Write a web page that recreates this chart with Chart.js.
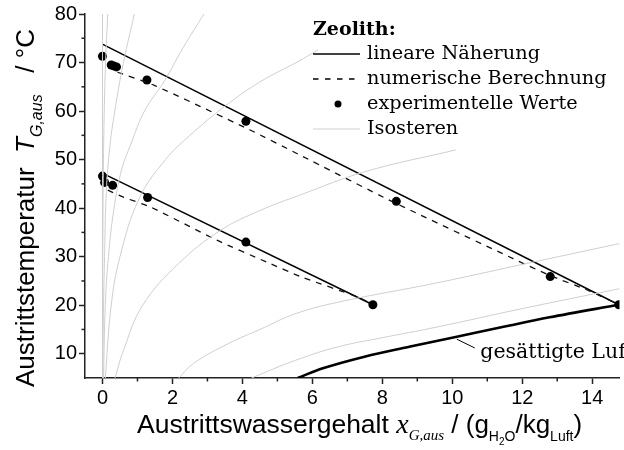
<!DOCTYPE html>
<html>
<head>
<meta charset="utf-8">
<script src="https://cdn.jsdelivr.net/npm/chart.js@4.4.0/dist/chart.umd.min.js"></script>
<style>
  html,body{margin:0;padding:0;background:#fff;}
  #wrap{position:relative;width:624px;height:450px;}
</style>
</head>
<body>
<div id="wrap"><canvas id="c" width="624" height="450"></canvas></div>
<script>
// Ticks
const xTicks = [0,2,4,6,8,10,12,14];
const xMinor = [1,3,5,7,9,11,13];
const yTicks = [10,20,30,40,50,60,70,80];
const yMinor = [15,25,35,45,55,65,75];

// Experimentelle Werte (x in g/kg, T in °C)
const expHighX = [0,0.25,0.32,0.4,1.27,4.1,8.4,12.8,14.76];
const expHighT = [71.3,69.5,69.3,69.1,66.4,57.9,41.4,25.9,20.1];
const expLowX  = [0,0.06,0.29,1.29,4.1,7.73];
const expLowT  = [46.6,45.3,44.7,42.2,33.0,20.1];

// Lineare Näherung
const linHighX = [0.01,14.76];
const linHighT = [73.75,20.1];
const linLowX  = [0.05,7.73];
const linLowT  = [47.0,20.1];

// Numerische Berechnung
const numHighX = [0.43,1.48,4.22,5.6,8.3,11.74,12.78,13.9,14.76];
const numHighT = [68.0,65.3,56.1,51.1,41.3,29.6,26.15,23.0,20.1];
const numLowX  = [0.15,0.58,1.38,3.27,4.69,5.73,7.29,7.73];
const numLowT  = [43.7,42.3,40.2,33.4,28.9,25.7,21.7,20.1];

// Gesättigte Luft
const satX = [5.58,6.3,7.49,8.8,10.13,11.5,12.78,14.76];
const satT = [5,7,9.4,11.5,13.5,15.6,17.5,20.1];

// Isosteren
const iso1X = [0,0];           const iso1T = [5,80];
const iso2X = [0,0.004,0.015,0.028,0.05,0.088,0.15];
const iso2T = [5,20,40,50,60,70,80];
const iso3X = [0.01,0.03,0.06,0.1,0.2,0.35,0.6,0.91];
const iso3T = [5,20,30,42,52,60,70,80];
const iso4X = [0.03,0.08,0.17,0.33,0.55,0.8,1.2,1.77,2.3,2.9];
const iso4T = [5,20,30,40,48,53,60,66.2,73,80];
const iso5X = [0.08,0.25,0.5,1.05,1.8,2.5,3.5,4.5,5.59,6.16];
const iso5T = [5,20,30,42,50,55,61,66,70.2,72.6];
const iso6X = [0.36,0.58,1.15,2.18,3.37,4.5,5.65,7.5,10.1];
const iso6T = [5,10.3,20,28.6,35.4,39.5,42.7,47.5,52];
const iso7X = [2.18,2.6,3.6,4.5,5.5,6.72,9.56,12,14.78];
const iso7T = [5,8,12.1,15,18.2,20.6,24.6,28.4,32.7];
const iso8X = [4.26,5.5,6.72,8,9.56,12,14.78];
const iso8T = [5,8.6,11.4,13.3,15.5,19.3,23.4];

const legendItems = [
  {label:'lineare Näherung', kind:'solid'},
  {label:'numerische Berechnung', kind:'dash'},
  {label:'experimentelle Werte', kind:'dot'},
  {label:'Isosteren', kind:'iso'}
];

function pts(xs, ys){ return xs.map((v,i)=>({x:v, y:ys[i]})); }

const isoStyle = {showLine:true, borderColor:'#cfcfcf', borderWidth:1, pointRadius:0, tension:0.4, fill:false};
const isos = [[iso1X,iso1T],[iso2X,iso2T],[iso3X,iso3T],[iso4X,iso4T],[iso5X,iso5T],[iso6X,iso6T],[iso7X,iso7T],[iso8X,iso8T]]
  .map(([a,b])=>Object.assign({data:pts(a,b)}, isoStyle));

const datasets = [
  ...isos,
  {data:pts(satX,satT), showLine:true, borderColor:'#000', borderWidth:2.6, pointRadius:0, cubicInterpolationMode:'monotone'},
  {data:pts(numHighX,numHighT), showLine:true, borderColor:'#111', borderWidth:1.3, borderDash:[6,6], pointRadius:0, tension:0.2},
  {data:pts(numLowX,numLowT), showLine:true, borderColor:'#111', borderWidth:1.3, borderDash:[6,6], pointRadius:0, tension:0.2},
  {data:pts(linHighX,linHighT), showLine:true, borderColor:'#000', borderWidth:1.5, pointRadius:0},
  {data:pts(linLowX,linLowT), showLine:true, borderColor:'#000', borderWidth:1.5, pointRadius:0},
  {data:pts(expHighX,expHighT), showLine:false, pointRadius:4.5, pointBackgroundColor:'#000', pointBorderWidth:0},
  {data:pts(expLowX,expLowT), showLine:false, pointRadius:4.5, pointBackgroundColor:'#000', pointBorderWidth:0}
];

function rich(ctx, parts, x0, y0){
  let x = x0;
  parts.forEach(p=>{
    ctx.font = p.f;
    ctx.fillText(p.t, x, y0 + (p.dy||0));
    x += ctx.measureText(p.t).width;
  });
}

const SANS = '"Liberation Sans", Arial, sans-serif';
const SERIF = '"DejaVu Serif", serif';

const overlay = {
  id:'overlay',
  afterDraw(chart){
    const {ctx, scales:{x, y}} = chart;
    ctx.save();
    // minor ticks
    ctx.strokeStyle = '#222'; ctx.lineWidth = 1.5;
    xMinor.forEach(v=>{
      const px = x.getPixelForValue(v);
      ctx.beginPath(); ctx.moveTo(px, y.bottom); ctx.lineTo(px, y.bottom+3.5); ctx.stroke();
    });
    yMinor.forEach(v=>{
      const py = y.getPixelForValue(v);
      ctx.beginPath(); ctx.moveTo(x.left, py); ctx.lineTo(x.left-3.5, py); ctx.stroke();
    });

    // axis titles
    ctx.fillStyle = '#000';
    ctx.textBaseline = 'alphabetic';
    ctx.textAlign = 'left';
    rich(ctx, [
      {t:'Austrittswassergehalt ', f:'26.5px '+SANS},
      {t:'x', f:'italic 28px "Liberation Serif", serif'},
      {t:'G,aus', f:'italic 15px "Liberation Serif", serif', dy:7},
      {t:' / (g', f:'26px '+SANS},
      {t:'H', f:'14px '+SANS, dy:8},
      {t:'2', f:'10px '+SANS, dy:12},
      {t:'O', f:'14px '+SANS, dy:8},
      {t:'/kg', f:'26px '+SANS},
      {t:'Luft', f:'14px '+SANS, dy:8},
      {t:')', f:'26px '+SANS}
    ], 137, 433);

    ctx.save();
    ctx.translate(34, 387);
    ctx.rotate(-Math.PI/2);
    rich(ctx, [
      {t:'Austrittstemperatur  ', f:'26px '+SANS},
      {t:'T', f:'italic 26px '+SANS},
      {t:'G,aus', f:'italic 16px '+SANS, dy:8},
      {t:'   / °C', f:'26px '+SANS}
    ], 0, 0);
    ctx.restore();

    // saturated air label
    const lx1 = x.getPixelForValue(10.13), ly1 = y.getPixelForValue(13.0);
    const lx2 = x.getPixelForValue(10.64), ly2 = y.getPixelForValue(11.2);
    ctx.strokeStyle = '#000'; ctx.lineWidth = 1;
    ctx.beginPath(); ctx.moveTo(lx1, ly1); ctx.lineTo(lx2, ly2); ctx.stroke();
    ctx.font = '20.5px '+SERIF;
    ctx.textBaseline = 'middle';
    ctx.fillText('gesättigte Luft', x.getPixelForValue(10.8), y.getPixelForValue(10.2));

    // legend
    const lx = 313, tx = 367;
    ctx.font = 'bold 19px '+SERIF;
    ctx.fillText('Zeolith:', lx, 30);
    legendItems.forEach((it,i)=>{
      const cy = 54 + i*25;
      ctx.save();
      if(it.kind==='solid' || it.kind==='dash' || it.kind==='iso'){
        ctx.strokeStyle = it.kind==='iso' ? '#cfcfcf' : '#000';
        ctx.lineWidth = it.kind==='iso' ? 1 : 1.4;
        if(it.kind==='dash') ctx.setLineDash([5.5,6.5]);
        ctx.beginPath(); ctx.moveTo(lx, cy); ctx.lineTo(360, cy); ctx.stroke();
      } else {
        ctx.fillStyle = '#000';
        ctx.beginPath(); ctx.arc(338, cy, 3.5, 0, Math.PI*2); ctx.fill();
      }
      ctx.restore();
      ctx.font = '19.3px '+SERIF;
      ctx.fillText(it.label, tx, cy);
    });
    ctx.restore();
  }
};

new Chart(document.getElementById('c'), {
  type:'scatter',
  data:{datasets},
  options:{
    responsive:false,
    animation:false,
    devicePixelRatio:1,
    layout:{padding:{left:0, right:0, top:14, bottom:0}},
    plugins:{legend:{display:false}, tooltip:{enabled:false}},
    scales:{
      x:{
        type:'linear', min:-0.5, max:14.78,
        afterBuildTicks: s=>{ s.ticks = xTicks.map(v=>({value:v})); },
        afterFit: s=>{ s.height = 72; },
        grid:{drawOnChartArea:false, drawTicks:true, tickLength:6, tickColor:'#222', tickWidth:1.5},
        border:{display:true, color:'#222', width:1.5},
        ticks:{color:'#000', font:{family:SANS, size:20}, padding:2, maxRotation:0}
      },
      y:{
        type:'linear', min:5, max:80,
        afterBuildTicks: s=>{ s.ticks = yTicks.map(v=>({value:v})); },
        afterFit: s=>{ s.width = 85; },
        grid:{drawOnChartArea:false, drawTicks:true, tickLength:6, tickColor:'#222', tickWidth:1.5},
        border:{display:true, color:'#222', width:1.5},
        ticks:{color:'#000', font:{family:SANS, size:20}, padding:2}
      }
    }
  },
  plugins:[overlay]
});
</script>
</body>
</html>
